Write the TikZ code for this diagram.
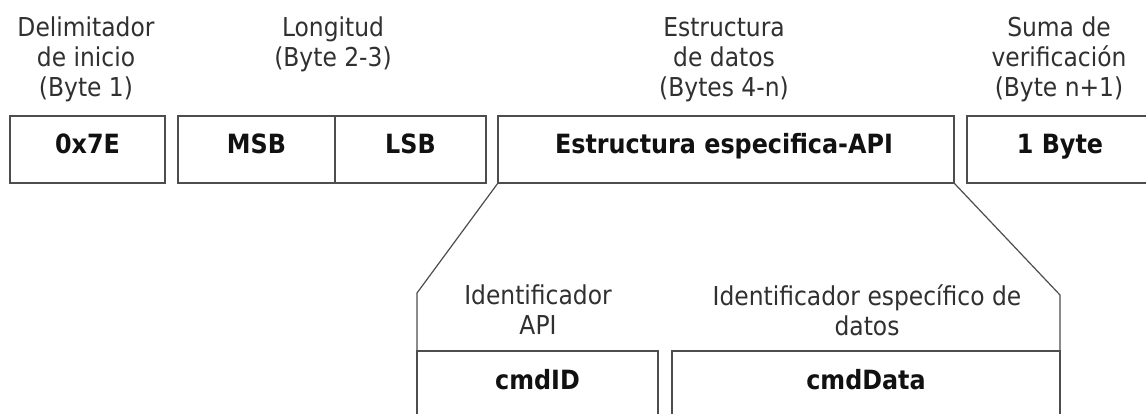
\documentclass[tikz,border=0pt]{standalone}
\usepackage{fontspec}
\setmainfont{DejaVu Sans}[FakeStretch=0.9]
\usetikzlibrary{calc}
\definecolor{edge}{HTML}{4D4D4D}
\definecolor{hdrtext}{HTML}{303030}
\definecolor{celltext}{HTML}{111111}
\tikzset{
  cellbox/.style={draw=edge, line width=1.8pt, inner sep=0pt, outer sep=0pt},
  celllabel/.style={font=\bfseries\fontsize{26.5}{30}\selectfont, text=celltext,
    anchor=base, inner sep=0pt},
  header/.style={font=\fontsize{26}{30}\selectfont, text=hdrtext, align=center,
    anchor=north, inner sep=0pt},
  fanline/.style={draw=edge, line width=1.2pt},
}
\begin{document}
\begin{tikzpicture}[x=1pt, y=-1pt]
  \clip (0,0) rectangle (1146,414);
  \fill[white] (0,0) rectangle (1146,414);

  % frame fields
  \node[cellbox, minimum width=155pt, minimum height=67pt] (start) at (87.5,149.5) {};
  \node[cellbox, minimum width=157pt, minimum height=67pt] (msb) at (256.5,149.5) {};
  \node[cellbox, minimum width=151pt, minimum height=67pt] (lsb) at (410.5,149.5) {};
  \node[cellbox, minimum width=456pt, minimum height=67pt] (api) at (726,149.5) {};
  \node[cellbox, minimum width=208pt, minimum height=67pt] (chk) at (1071,149.5) {};

  \node[celllabel] (startlbl) at ($(start.north)+(0,38)$) {0x7E};
  \node[celllabel] (msblbl) at ($(msb.north)+(0,38)$) {MSB};
  \node[celllabel] (lsblbl) at ($(lsb.north)+(0,38)$) {LSB};
  \node[celllabel] (apilbl) at ($(api.north)+(-2,38)$) {Estructura especifica-API};
  \node[celllabel] (chklbl) at ($(chk.north west)+(93,38)$) {1 Byte};

  % field captions
  \node[header] (hstart) at (86,17) {Delimitador\\de inicio\\(Byte 1)};
  \node[header] (hlen) at (333,17) {Longitud\\(Byte 2-3)};
  \node[header] (hdata) at (724,17) {Estructura\\de datos\\(Bytes 4-n)};
  \node[header] (hchk) at (1059,17) {Suma de\\verificación\\(Byte n+1)};

  % expanded API structure
  \node[cellbox, minimum width=241pt, minimum height=89pt] (cmdid) at (537.5,395.5) {};
  \node[cellbox, minimum width=388pt, minimum height=89pt] (cmddata) at (866,395.5) {};
  \node[celllabel] (cmdidlbl) at ($(cmdid.north)+(0,38)$) {cmdID};
  \node[celllabel] (cmddatalbl) at ($(cmddata.north)+(0,38)$) {cmdData};

  \node[header] (hcmdid) at (538,285) {Identificador\\API};
  \node[header] (hcmddata) at (867,285) {Identificador específico de\\datos};

  \coordinate (fanL) at (417,293);
  \coordinate (fanR) at (1060,295);
  \draw[fanline] (api.south west) -- (fanL) -- (cmdid.north west);
  \draw[fanline] (api.south east) -- (fanR) -- (cmddata.north east);
\end{tikzpicture}
\end{document}
